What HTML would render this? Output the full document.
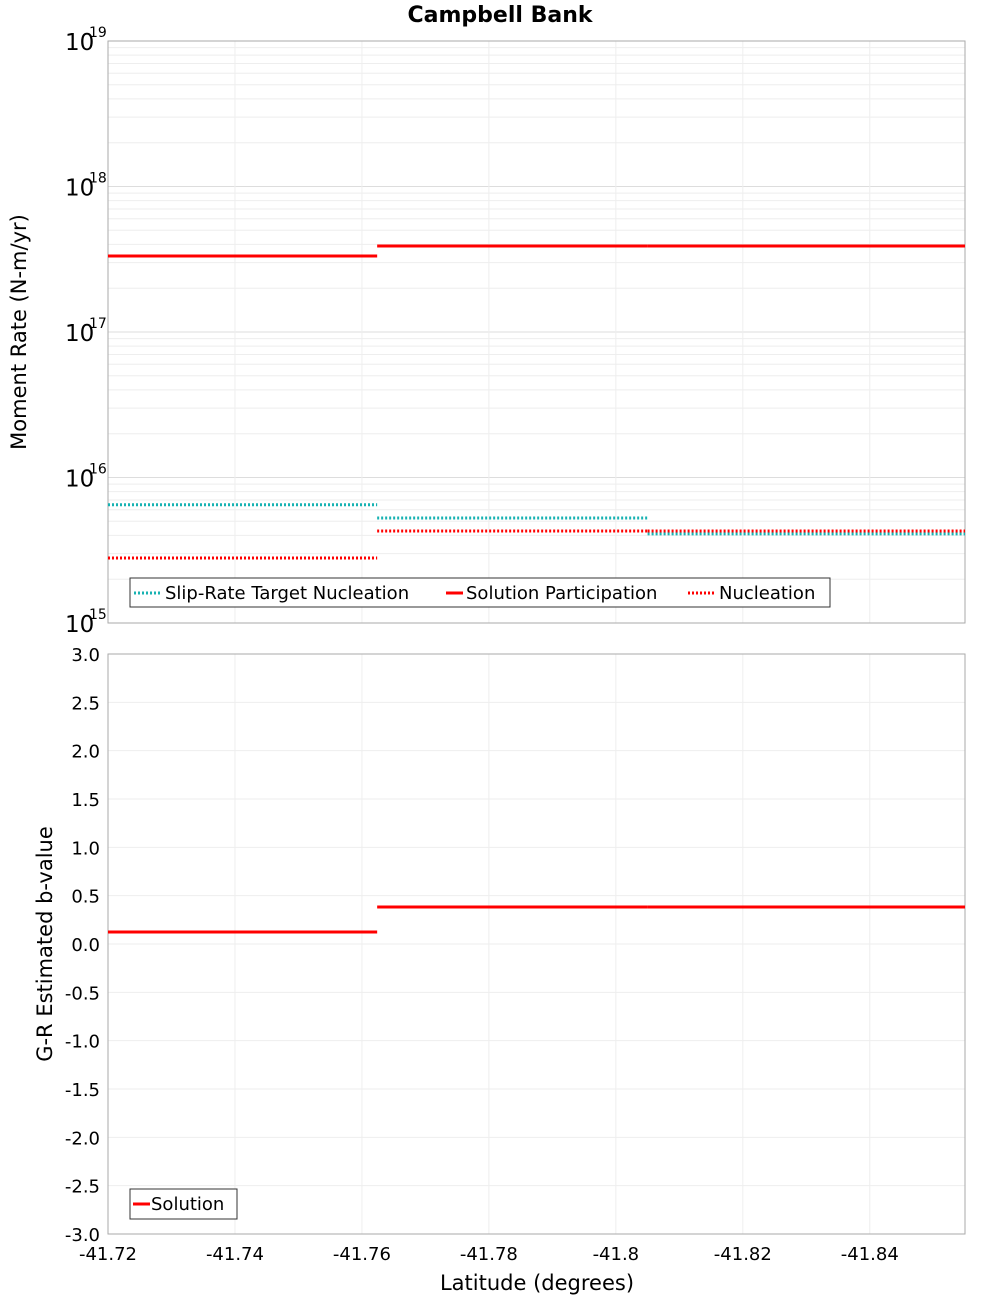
<!DOCTYPE html>
<html><head><meta charset="utf-8"><style>
body{margin:0;background:#fff}
svg text{font-family:"DejaVu Sans","Liberation Sans",sans-serif}
</style></head><body>
<svg id="c" width="1000" height="1300" xmlns="http://www.w3.org/2000/svg">
<text x="500" y="22" text-anchor="middle" font-size="22" font-weight="bold">Campbell Bank</text>
</svg>
<script>
const xTicks=[-41.72,-41.74,-41.76,-41.78,-41.8,-41.82,-41.84];
const xTickLabels=["-41.72","-41.74","-41.76","-41.78","-41.8","-41.82","-41.84"];
const segBounds=[-41.72,-41.7624,-41.805,-41.855];
const targetNucleation=[6.5e15,5.27e15,4.1e15];
const solutionParticipation=[3.33e17,3.9e17,3.9e17];
const solutionNucleation=[2.8e15,4.29e15,4.29e15];
const bValues=[0.124,0.383,0.383];
const yTicksB=[3,2.5,2,1.5,1,0.5,0,-0.5,-1,-1.5,-2,-2.5,-3];
const decades=[15,16,17,18,19];

const svg=document.getElementById('c');const NS='http://www.w3.org/2000/svg';
function el(t,a,txt){const e=document.createElementNS(NS,t);for(const k in a)e.setAttribute(k,a[k]);if(txt!==undefined)e.textContent=txt;svg.appendChild(e);return e;}
const X0=108,X1=965;
const xs=v=>X0+(v-(-41.72))/(-41.855+41.72)*(X1-X0);
const T0=41,T1=623;
const ys1=v=>T0+(19-Math.log10(v))/4*(T1-T0);
const B0=654,B1=1234;
const ys2=v=>B0+(3-v)/6*(B1-B0);

for(let d=15;d<19;d++)for(let m=1;m<10;m++){const y=ys1(m*Math.pow(10,d));
 const g=el('line',{x1:X0,x2:X1,y1:y,y2:y,stroke:m==1?'#ddd':'#eee','stroke-width':1});
 }
yTicksB.forEach(v=>{const y=ys2(v);
 const g=el('line',{x1:X0,x2:X1,y1:y,y2:y,stroke:'#eee'});
 
 const t=el('text',{x:100,y:y+7,'text-anchor':'end','font-size':18},v.toFixed(1));
 });
xTicks.forEach((v,i)=>{const x=xs(v);
 [[T0,T1],[B0,B1]].forEach(p=>{const g=el('line',{x1:x,x2:x,y1:p[0],y2:p[1],stroke:'#eee'});
 });
 const t=el('text',{x:x,y:1260,'text-anchor':'middle','font-size':18},xTickLabels[i]);
 });
let r=el('rect',{x:X0,y:T0,width:X1-X0,height:T1-T0,fill:'none',stroke:'#aaa'});

r=el('rect',{x:X0,y:B0,width:X1-X0,height:B1-B0,fill:'none',stroke:'#aaa'});

decades.forEach(d=>{const y=ys1(Math.pow(10,d));
 const t=el('text',{x:65,y:y+9,'font-size':23},'10');
 
 const s=el('text',{x:89,y:y-4,'font-size':14},String(d));
 });

function series(vals,sc,color,dash,name){vals.forEach((v,i)=>{const y=sc(v);
 const l=el('line',{x1:xs(segBounds[i]),x2:xs(segBounds[i+1]),y1:y,y2:y,stroke:color,'stroke-width':3});
 if(dash)l.setAttribute('stroke-dasharray','2,2');
 });}
series(targetNucleation,ys1,'#17b2b2',true,'target-nucleation-segment');
series(solutionNucleation,ys1,'#f00',true,'solution-nucleation-segment');
series(solutionParticipation,ys1,'#f00',false,'solution-participation-segment');
series(bValues,ys2,'#f00',false,'b-value-segment');

r=el('rect',{x:130,y:578,width:700,height:29,fill:'#fff',stroke:'#333'});

[[134,'#17b2b2',true,'Slip-Rate Target Nucleation',28],[446,'#f00',false,'Solution Participation',17],[688,'#f00',true,'Nucleation',28]].forEach(e=>{
 const l=el('line',{x1:e[0],x2:e[0]+e[4],y1:593,y2:593,stroke:e[1],'stroke-width':3});if(e[2])l.setAttribute('stroke-dasharray','2,2');
 
 const t=el('text',{x:e[0]+e[4]+3,y:599,'font-size':18},e[3]);
 });
r=el('rect',{x:130,y:1189,width:107,height:30,fill:'#fff',stroke:'#333'});

let l=el('line',{x1:133,x2:150,y1:1204,y2:1204,stroke:'#f00','stroke-width':3});

let t=el('text',{x:151,y:1210,'font-size':18},'Solution');


t=el('text',{x:537,y:1290,'text-anchor':'middle','font-size':21},'Latitude (degrees)');

t=el('text',{x:0,y:0,'text-anchor':'middle','font-size':21,transform:'translate(26,332) rotate(-90)'},'Moment Rate (N-m/yr)');

t=el('text',{x:0,y:0,'text-anchor':'middle','font-size':21,transform:'translate(52,944) rotate(-90)'},'G-R Estimated b-value');

</script>
</body></html>
